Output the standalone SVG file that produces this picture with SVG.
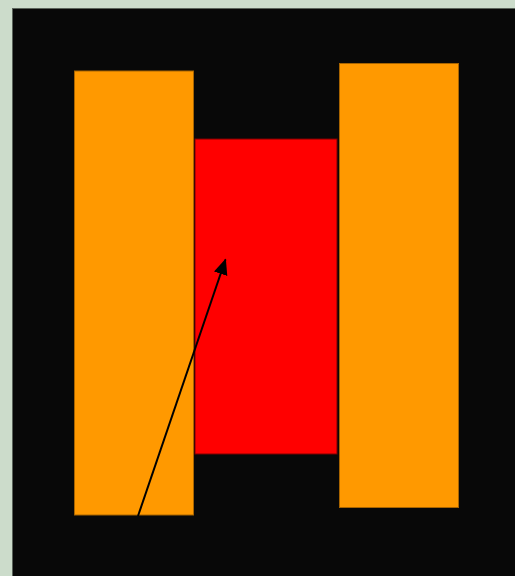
<svg xmlns="http://www.w3.org/2000/svg" width="515" height="576" viewBox="0 0 515 576">
<style>
.bar{fill:#ff9900;stroke:#a86400;stroke-width:1}
.mid{fill:#ff0000;stroke:#7a0000;stroke-width:1}
.conn{stroke:#000;stroke-width:2;fill:none}
</style>
<defs>
<marker id="ah" markerWidth="10" markerHeight="10" refX="9" refY="5" orient="auto" markerUnits="userSpaceOnUse" viewBox="0 0 10 10">
<path d="M0,0 L10,5 L0,10 z" fill="#000"/>
</marker>
<marker id="ah2" markerWidth="16" markerHeight="16" refX="15" refY="7" orient="auto" markerUnits="userSpaceOnUse" viewBox="0 0 16 14">
<path d="M0,0 L16,7 L0,14 z" fill="#000"/>
</marker>
</defs>
<rect x="0" y="0" width="515" height="576" fill="#ccdccb"/>
<rect x="12.5" y="8.5" width="503" height="568" fill="#080808" stroke="#5a635a" stroke-width="1"/>
<g id="left"><rect class="bar" x="74.5" y="71" width="119" height="444"/></g>
<g id="right"><rect class="bar" x="339.5" y="63.5" width="119" height="444"/></g>
<g id="middle"><rect class="mid" x="195" y="139" width="142" height="315"/></g>
<g id="connectors"><line class="conn" x1="138" y1="516" x2="225.5" y2="259.5" marker-end="url(#ah2)"/></g>
</svg>
